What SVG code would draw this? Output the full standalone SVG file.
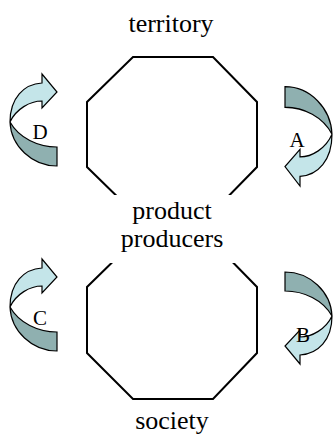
<svg xmlns="http://www.w3.org/2000/svg" xmlns:xlink="http://www.w3.org/1999/xlink" width="335" height="439" viewBox="0 0 335 439">
<style>
.oct{fill:#fff;stroke:#000;stroke-width:2;stroke-linejoin:miter}
.lbl{font-size:26px;fill:#000;text-anchor:middle}
.let{font-size:21px;fill:#000;text-anchor:middle}
.lt{fill:#c4e5e9;stroke:#000;stroke-width:1.2;stroke-linejoin:miter}
.dk{fill:#8fb0b0;stroke:#000;stroke-width:1.2;stroke-linejoin:miter}
</style>
<defs>
<g id="curl">
<path class="dk" d="M 10,122 C 11,146 32,166 57,166 L 57,147 C 38,147 19,138 10,122 Z"/>
<path class="lt" d="M 10,122 C 10,98 24,84 42,83 L 42,74 L 57,92 L 42,108 L 42,101 C 30,101 16,109 10,122 Z"/>
</g>
</defs>
<rect width="335" height="439" fill="#fff"/>
<g id="upper-octagon">
<polygon class="oct" points="133,57 213,57 257,102 257,167 213,212 133,212 87,167 87,102"/>
</g>
<g id="lower-octagon">
<polygon class="oct" points="133,242 213,242 257,287 257,353 213,399 133,399 87,353 87,287"/>
</g>
<g id="product-producers" font-family="Liberation Serif, serif">
<rect x="100" y="195" width="145" height="68" fill="#fff"/>
<text class="lbl" x="172" y="219">product</text>
<text class="lbl" x="172" y="247">producers</text>
</g>
<g id="territory" font-family="Liberation Serif, serif">
<text class="lbl" x="171" y="32">territory</text>
</g>
<g id="society" font-family="Liberation Serif, serif">
<text class="lbl" x="172" y="429">society</text>
</g>
<g id="connectors" font-family="Liberation Serif, serif">
<g id="arrow-D">
<use xlink:href="#curl"/>
<text class="let" x="40" y="139">D</text>
</g>
<g id="arrow-A">
<use xlink:href="#curl" transform="translate(342,266) scale(-1,-1.08)"/>
<text class="let" x="297" y="147">A</text>
</g>
<g id="arrow-C">
<use xlink:href="#curl" transform="translate(0,185)"/>
<text class="let" x="40" y="325">C</text>
</g>
<g id="arrow-B">
<use xlink:href="#curl" transform="translate(342,438) scale(-1,-1)"/>
<text class="let" x="303" y="342">B</text>
</g>
</g>
</svg>
